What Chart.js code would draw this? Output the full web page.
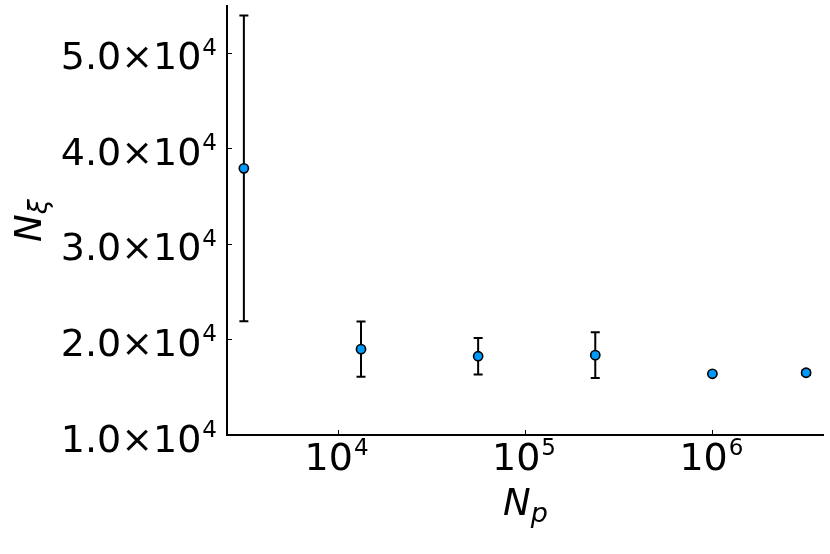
<!DOCTYPE html>
<html>
<head>
<meta charset="utf-8">
<script src="https://cdn.jsdelivr.net/npm/chart.js@4/dist/chart.umd.min.js"></script>
<style>
  html, body { margin: 0; padding: 0; background: #ffffff; }
  #wrap { width: 830px; height: 554px; }
</style>
</head>
<body>
<div id="wrap"><canvas id="c" width="830" height="554"></canvas></div>
<script>
// ---- data ----
const npValues   = [3162, 13335, 56234, 237137, 1000000, 3162278];   // N_p (x, log scale)
const nxiValues  = [37920, 18990, 18250, 18360, 16410, 16520];       // N_xi (y)
const nxiErrors  = [16000, 2900, 1920, 2400, 100, 250];              // symmetric error (±)
const yTickValues = [10000, 20000, 30000, 40000, 50000];
const yTickMant   = ['1.0', '2.0', '3.0', '4.0', '5.0'];
const xTickValues = [10000, 100000, 1000000];
const xTickExp    = ['4', '5', '6'];
const xLabel = 'N';
const xLabelSub = 'p';
const yLabel = 'N';
const yLabelSub = 'ξ';

const FONT = '"DejaVu Sans", sans-serif';

const points = npValues.map((x, i) => ({ x: x, y: nxiValues[i] }));

const errorBars = {
  id: 'errorBars',
  beforeDatasetsDraw(chart) {
    const ctx = chart.ctx, xs = chart.scales.x, ys = chart.scales.y;
    ctx.save();
    ctx.strokeStyle = '#000';
    ctx.lineWidth = 2;
    for (let i = 0; i < npValues.length; i++) {
      const px = xs.getPixelForValue(npValues[i]);
      const top = ys.getPixelForValue(nxiValues[i] + nxiErrors[i]);
      const bot = ys.getPixelForValue(nxiValues[i] - nxiErrors[i]);
      ctx.beginPath();
      ctx.moveTo(px, top); ctx.lineTo(px, bot);
      ctx.moveTo(px - 4.5, top); ctx.lineTo(px + 4.5, top);
      ctx.moveTo(px - 4.5, bot); ctx.lineTo(px + 4.5, bot);
      ctx.stroke();
    }
    ctx.restore();
  }
};

const axisDecor = {
  id: 'axisDecor',
  afterDraw(chart) {
    const ctx = chart.ctx, xs = chart.scales.x, ys = chart.scales.y;
    const area = chart.chartArea;
    ctx.save();
    // inward tick marks
    ctx.strokeStyle = '#000';
    ctx.lineWidth = 1;
    ctx.beginPath();
    yTickValues.forEach(v => {
      const py = Math.round(ys.getPixelForValue(v)) + 0.5;
      ctx.moveTo(area.left, py); ctx.lineTo(area.left + 5, py);
    });
    xTickValues.forEach(v => {
      const px = Math.round(xs.getPixelForValue(v)) + 0.5;
      ctx.moveTo(px, area.bottom); ctx.lineTo(px, area.bottom - 5);
    });
    ctx.stroke();

    ctx.fillStyle = '#000';
    ctx.textBaseline = 'alphabetic';
    ctx.textAlign = 'left';
    const mainFont = '38px ' + FONT;
    const supFont = '23px ' + FONT;

    // y tick labels: "m.0×10^4"
    yTickValues.forEach((v, i) => {
      const py = ys.getPixelForValue(v);
      const mainTxt = yTickMant[i] + '×10';
      ctx.font = supFont;
      const wSup = ctx.measureText('4').width;
      ctx.font = mainFont;
      const wMain = ctx.measureText(mainTxt).width;
      const right = area.left - 10;
      const x0 = right - wSup - wMain - 1;
      ctx.fillText(mainTxt, x0, py + 16.5);
      ctx.font = supFont;
      ctx.fillText('4', x0 + wMain + 1, py + 2);
    });

    // x tick labels: "10^k"
    xTickValues.forEach((v, i) => {
      const px = xs.getPixelForValue(v);
      ctx.font = mainFont;
      const wMain = ctx.measureText('10').width;
      ctx.font = supFont;
      const wSup = ctx.measureText(xTickExp[i]).width;
      const x0 = px - (wMain + wSup + 1) / 2 - 1;
      ctx.font = mainFont;
      ctx.fillText('10', x0, area.bottom + 34.5);
      ctx.font = supFont;
      ctx.fillText(xTickExp[i], x0 + wMain + 1, area.bottom + 20);
    });

    // x axis title N_p
    const tFont = 'italic 37px ' + FONT;
    const sFont = 'italic 27px ' + FONT;
    ctx.font = tFont;
    const wN = ctx.measureText(xLabel).width;
    ctx.font = sFont;
    const wP = ctx.measureText(xLabelSub).width;
    const cx = (area.left + area.right) / 2;
    const xs0 = cx - (wN + wP) / 2;
    ctx.font = tFont;
    ctx.fillText(xLabel, xs0, 515);
    ctx.font = sFont;
    ctx.fillText(xLabelSub, xs0 + wN, 522);

    // y axis title N_xi (rotated)
    ctx.save();
    const cy = (area.top + area.bottom) / 2;
    ctx.translate(41, cy);
    ctx.rotate(-Math.PI / 2);
    ctx.font = tFont;
    const wN2 = ctx.measureText(yLabel).width;
    ctx.font = sFont;
    const wX = ctx.measureText(yLabelSub).width;
    const u0 = -(wN2 + wX) / 2;
    ctx.font = tFont;
    ctx.fillText(yLabel, u0, 0);
    ctx.font = sFont;
    ctx.fillText(yLabelSub, u0 + wN2, 6);
    ctx.restore();

    ctx.restore();
  }
};

new Chart(document.getElementById('c'), {
  type: 'scatter',
  data: {
    datasets: [{
      data: points,
      backgroundColor: '#009afa',
      borderColor: '#000000',
      borderWidth: 1.6,
      pointRadius: 4.6,
      pointHoverRadius: 4.6,
      showLine: false
    }]
  },
  options: {
    responsive: false,
    animation: false,
    devicePixelRatio: 1,
    layout: { padding: { top: 5, right: 5, left: 0, bottom: 0 } },
    plugins: { legend: { display: false }, tooltip: { enabled: false } },
    scales: {
      x: {
        type: 'logarithmic',
        min: 2570,
        max: 3930000,
        grid: { display: false },
        border: { display: true, color: '#000', width: 2 },
        ticks: { display: false },
        afterBuildTicks(scale) { scale.ticks = xTickValues.map(v => ({ value: v })); },
        afterFit(scale) { scale.height = 119; }
      },
      y: {
        type: 'linear',
        min: 10000,
        max: 54900,
        grid: { display: false },
        border: { display: true, color: '#000', width: 2 },
        ticks: { display: false },
        afterBuildTicks(scale) { scale.ticks = yTickValues.map(v => ({ value: v })); },
        afterFit(scale) { scale.width = 227; }
      }
    }
  },
  plugins: [errorBars, axisDecor]
});
</script>
</body>
</html>
